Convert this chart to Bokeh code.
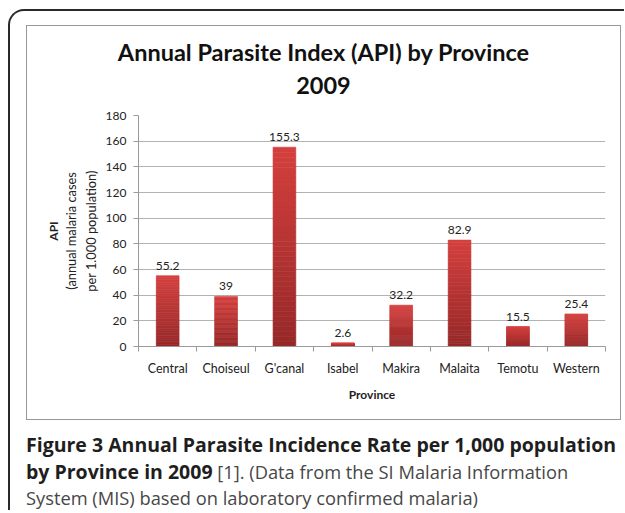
from bokeh.plotting import figure
from bokeh.models import Range1d, FixedTicker, LinearAxis, Div
from bokeh.layouts import column
from bokeh.embed import file_html
from bokeh.resources import INLINE

# ---- data ----
provinces = ["Central", "Choiseul", "G'canal", "Isabel", "Makira", "Malaita", "Temotu", "Western"]
api = [55.2, 39, 155.3, 2.6, 32.2, 82.9, 15.5, 25.4]
value_labels = ["55.2", "39", "155.3", "2.6", "32.2", "82.9", "15.5", "25.4"]
y_ticks = [0, 20, 40, 60, 80, 100, 120, 140, 160, 180]

title_lines = ["Annual Parasite Index (API) by Province", "2009"]
y_title_bold = "API"
y_title_rest = "(annual malaria cases\nper 1.000 population)"
x_title = "Province"
caption_bold = ["Figure 3 Annual Parasite Incidence Rate per 1,000 population", "by Province in 2009"]
caption_rest = ["[1]. (Data from the SI Malaria Information", "System (MIS) based on laboratory confirmed malaria)"]

FONT = "Lato"
GRID = "#b2b2b2"
AXIS = "#9a9a9a"

# ---- chart figure ----
p = figure(width=593, height=317, output_backend="svg", toolbar_location=None, title_location=None,
           x_range=Range1d(0, len(provinces)), y_range=Range1d(0, 180),
           min_border_left=111, min_border_right=15, min_border_top=13, min_border_bottom=73,
           margin=0)
p.outline_line_color = None
p.background_fill_color = "white"
p.border_fill_color = "white"

# gradient bars: each bar drawn as stacked slices of its own value
TOP = (212, 64, 62)
BOT = (150, 40, 40)
n = 40
xs, bots, tops, cols = [], [], [], []
for i, v in enumerate(api):
    for k in range(n):
        f0, f1 = k / n, (k + 1) / n
        t = (f0 + f1) / 2
        c = tuple(int(round(BOT[j] + (TOP[j] - BOT[j]) * t)) for j in range(3))
        xs.append(i + 0.5)
        bots.append(v * f0)
        tops.append(v * f1)
        cols.append("#%02x%02x%02x" % c)
p.vbar(x=xs, bottom=bots, top=tops, width=0.39, fill_color=cols, line_color=cols, line_width=0.6)

centers = [i + 0.5 for i in range(len(provinces))]
p.text(x=centers, y=api, text=value_labels, text_align="center", text_baseline="alphabetic",
       y_offset=-10, text_font_size="12px", text_color="#222222", text_font={"value": FONT})

# x axis: labels at bar centres, ticks between categories
p.xaxis.ticker = FixedTicker(ticks=centers, minor_ticks=list(range(len(provinces) + 1)))
p.xaxis.major_label_overrides = {c: name for c, name in zip(centers, provinces)}
p.xaxis.major_tick_out = 0
p.xaxis.major_tick_in = 0
p.xaxis.minor_tick_out = 5
p.xaxis.minor_tick_in = 0
p.xaxis.minor_tick_line_color = AXIS
p.xaxis.axis_line_color = AXIS
p.xaxis.major_label_text_font = FONT
p.xaxis.major_label_text_font_size = "12.5px"
p.xaxis.major_label_text_color = "#222222"
p.xaxis.major_label_standoff = 9
p.xaxis.axis_label = x_title
p.xaxis.axis_label_text_font = FONT
p.xaxis.axis_label_text_font_style = "bold"
p.xaxis.axis_label_text_font_size = "12px"
p.xaxis.axis_label_text_color = "#222222"
p.xaxis.axis_label_standoff = 8

# y axis
p.yaxis.ticker = FixedTicker(ticks=y_ticks)
p.yaxis.major_tick_out = 5
p.yaxis.major_tick_in = 0
p.yaxis.minor_tick_out = 0
p.yaxis.minor_tick_in = 0
p.yaxis.major_tick_line_color = AXIS
p.yaxis.axis_line_color = AXIS
p.yaxis.major_label_text_font = FONT
p.yaxis.major_label_text_font_size = "12px"
p.yaxis.major_label_text_color = "#222222"
p.yaxis.major_label_standoff = 7
p.yaxis.axis_label = y_title_rest
p.yaxis.axis_label_text_font = FONT
p.yaxis.axis_label_text_font_style = "normal"
p.yaxis.axis_label_text_font_size = "12.8px"
p.yaxis.axis_label_text_color = "#222222"
p.yaxis.axis_label_standoff = 4

api_axis = LinearAxis(ticker=FixedTicker(ticks=[]), axis_label=y_title_bold,
                      axis_line_color=None, major_tick_out=0, major_tick_in=0,
                      minor_tick_out=0, minor_tick_in=0,
                      axis_label_text_font=FONT, axis_label_text_font_style="bold",
                      axis_label_text_font_size="12px", axis_label_text_color="#222222",
                      axis_label_standoff=0)
p.add_layout(api_axis, "left")

p.xgrid.visible = False
p.ygrid.ticker = FixedTicker(ticks=y_ticks)
p.ygrid.grid_line_color = GRID

# ---- title inside the chart box ----
title_div = Div(width=593, height=76, margin=0,
                text=('<div style="margin:0;padding-top:10px;font-family:Lato;font-size:23.5px;'
                      'font-weight:bold;line-height:33px;text-align:center;color:#111;width:593px">'
                      + title_lines[0] + "<br>" + title_lines[1] + "</div>"))

inner = column(title_div, p, spacing=0, margin=0,
               styles={"border": "1px solid #999999", "background": "white"})

# ---- caption ----
cap_html = ('<div style="margin:0;padding-top:13px;font-family:\'Open Sans\';'
            'line-height:23.5px;color:#474747;white-space:nowrap">'
            '<b style="color:#1e1e1e;font-weight:700;font-size:19.5px">' + caption_bold[0] + "<br>"
            + caption_bold[1] + "</b>"
            '<span style="font-size:18.3px"> ' + caption_rest[0] + "<br>" + caption_rest[1] + "</span></div>")
caption = Div(width=598, height=90, margin=0, text=cap_html)

outer = column(inner, caption, spacing=0, margin=0,
               styles={"margin-left": "8px", "margin-top": "9px",
                       "border-top": "2px solid #2a2a2a", "border-left": "2px solid #2a2a2a",
                       "border-top-left-radius": "16px",
                       "padding-left": "16px", "padding-top": "14px"})

open("out.html", "w").write(file_html(outer, INLINE))
